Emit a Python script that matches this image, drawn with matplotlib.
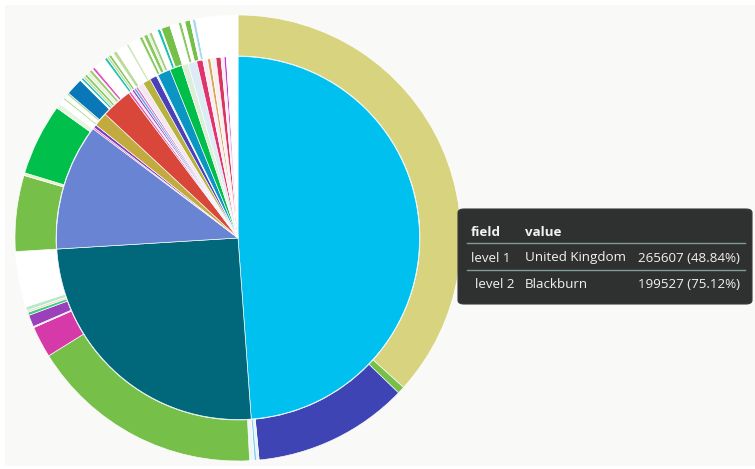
import matplotlib
matplotlib.use("Agg")
import matplotlib.pyplot as plt
from matplotlib.patches import FancyBboxPatch, Rectangle

# ---------------- data ----------------
# level 1 (inner ring), clockwise from 12 o'clock
inner_labels = ["United Kingdom", "C2", "C3", "C4", "C5", "C6", "C7", "C8", "C9", "C10",
                "C11", "C12", "C13", "C14", "C15", "C16", "C17", "C18", "C19", "C20",
                "C21", "C22", "C23", "C24", "C25", "C26", "C27", "C28"]
inner_values = [265607, 137000, 61180, 755, 1511, 6798, 15107, 1209, 755, 1057,
                1209, 1057, 3021, 3777, 3475, 755, 6345, 6043, 3021, 4230,
                3021, 2266, 1511, 2568, 2417, 1511, 1057, 5590]
inner_colors = ["#00c0f0", "#00687a", "#6884d3", "#e052c4", "#7d3fb8", "#c2aa3e", "#d9473a",
                "#e05fb0", "#ecd0ec", "#9b44c0", "#6aa8e8", "#e070c0", "#f4e8f0", "#b8b23e",
                "#4b40b8", "#d8ecf4", "#0b95c2", "#00bf48", "#dcefd6", "#dcecf6",
                "#e0336e", "#f6eef2", "#d8a55a", "#f8f0f0", "#d83560", "#f6f0f4",
                "#c43ad0", "#ffffff"]

# level 2 (outer ring), same order
outer_values = [199527, 2870, 61320, 1000, 890,
                1810, 92300, 12390, 450, 4680, 1200, 800, 1470, 21900,
                29910, 1060, 28250, 1960,
                2266, 755, 1511, 755, 6798, 604, 906, 906, 1057, 1360, 1209, 453, 1057,
                4985, 1057, 906, 1057, 1057, 1511, 4532, 906, 4834, 1209, 604, 1511,
                755, 1209, 2266, 1209, 453, 3475, 3475, 1209, 1360, 2115, 906, 1209, 16618]
outer_colors = ["#d8d37e", "#76c04a", "#3f44b4", "#e6f4fa", "#7fd0ea",
                "#eef6f8", "#76c04a", "#d63aa8", "#f4e4f0", "#9b3fba", "#3ccf8a", "#f8d8c0", "#b8e8cc", "#ffffff",
                "#76c04a", "#e8f0c8", "#00c04b", "#e6f4e0",
                "#ffffff", "#b5dc9a", "#ffffff", "#a8d488", "#0a78b8", "#ffffff", "#22bfb0",
                "#c0e0a8", "#8cc860", "#e8f4e0", "#9ccf70", "#ffffff", "#e052c4",
                "#ffffff", "#22bfb0", "#c0e0a8", "#8cc860", "#ffffff", "#b8dc98", "#ffffff",
                "#c8e6b0", "#ffffff", "#8cc860", "#ffffff", "#8cc860", "#e0f0d4", "#a0d080",
                "#ffffff", "#1fbfb0", "#ffffff", "#76c04a", "#ffffff", "#8cc860", "#ffffff",
                "#76c04a", "#ffffff", "#a8d8f0", "#ffffff"]

tip_header = ["field", "value"]
tip_rows = [("level 1", "United Kingdom", "265607 (48.84%)"),
            ("level 2", "Blackburn", "199527 (75.12%)")]

# ---------------- figure ----------------
W, H = 755, 469
fig = plt.figure(figsize=(W / 100, H / 100), dpi=100, facecolor="white")
fig.patches.append(Rectangle((5 / W, 3 / H), (W - 5) / W, (H - 8) / H,
                             transform=fig.transFigure, facecolor="#f9f9f7",
                             edgecolor="none", zorder=-10))

cx, cy, R = 238, 238, 223
half = 232
ax = fig.add_axes([(cx - half) / W, (H - cy - half) / H, 2 * half / W, 2 * half / H])
ax.set_facecolor("none")
ax.set_zorder(1)

r_in = 181.5 / R
ax.pie(outer_values, colors=outer_colors, radius=1.0, startangle=90, counterclock=False,
       wedgeprops=dict(width=1.0 - 182 / R, edgecolor="white", linewidth=0.45))
ax.pie(inner_values, colors=inner_colors, radius=r_in, startangle=90, counterclock=False,
       wedgeprops=dict(edgecolor="white", linewidth=0.45))
lim = half / R
ax.set_xlim(-lim, lim)
ax.set_ylim(-lim, lim)
ax.set_aspect("equal")
ax.axis("off")

# ---------------- tooltip ----------------
def fx(px):
    return px / W

def fy(py):
    return 1 - py / H

x0, y0, x1, y1 = 458, 209, 752, 304
fig.patches.append(FancyBboxPatch((fx(x0), fy(y1)), fx(x1) - fx(x0), fy(y0) - fy(y1),
                                  boxstyle="round,pad=0,rounding_size=0.008",
                                  transform=fig.transFigure, facecolor="#2f3030",
                                  edgecolor="#3a3a3a", linewidth=0.8, zorder=5))
font = "Open Sans"
tc = "#f2f2f2"
fs = 9.6
fig.text(fx(471), fy(232), tip_header[0], color=tc, fontsize=fs, fontweight="bold",
         family=font, va="center", ha="left", zorder=6)
fig.text(fx(525), fy(232), tip_header[1], color=tc, fontsize=fs, fontweight="bold",
         family=font, va="center", ha="left", zorder=6)
for ly in (243, 270):
    fig.lines.append(plt.Line2D([fx(467), fx(745)], [fy(ly), fy(ly)], color="#7d9c9a",
                                linewidth=1.0, transform=fig.transFigure, zorder=6))
row_y = [258, 285]
row_x0 = [471, 475]
for (a, b, c), ry, rx in zip(tip_rows, row_y, row_x0):
    fig.text(fx(rx), fy(ry), a, color=tc, fontsize=fs, family=font, va="center", ha="left", zorder=6)
    fig.text(fx(525), fy(ry), b, color=tc, fontsize=fs, family=font, va="center", ha="left", zorder=6)
    fig.text(fx(740), fy(ry), c, color=tc, fontsize=fs, family=font, va="center", ha="right", zorder=6)

fig.savefig("out.png", dpi=100, facecolor=fig.get_facecolor())
